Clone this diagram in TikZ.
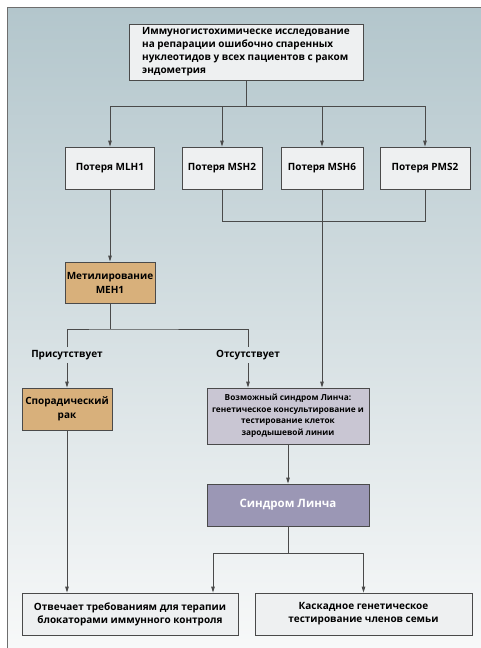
\documentclass[tikz,border=0pt]{standalone}
\usepackage{fontspec}
\setmainfont{Open Sans}
\usetikzlibrary{arrows.meta,calc}
\definecolor{bgtop}{HTML}{B3C6CC}
\definecolor{bgbot}{HTML}{F8F9F9}
\definecolor{boxfill}{HTML}{EEF0F1}
\definecolor{boxline}{HTML}{4A4A4A}
\definecolor{tan}{HTML}{D8B07B}
\definecolor{lavlight}{HTML}{C9C6D3}
\definecolor{lavdark}{HTML}{9B97B5}
\tikzset{
  box/.style={draw=boxline, fill=boxfill, line width=0.8pt, inner sep=0pt, align=center,
    font=\fontsize{10}{13}\selectfont\bfseries, text=black},
  tanbox/.style={box, fill=tan, font=\fontsize{10}{14}\selectfont\bfseries},
  lbl/.style={inner sep=3pt, font=\fontsize{10}{12}\selectfont\bfseries},
  conn/.style={draw=boxline, line width=0.8pt},
  arr/.style={conn, -{Triangle[length=6pt,width=3.5pt]}},
}
\begin{document}
\begin{tikzpicture}[x=1pt,y=-1pt]
\useasboundingbox (0,0) rectangle (480,648);
\shade[top color=bgtop, bottom color=bgbot] (7,7) rectangle (484,652);
\draw[boxline!80, line width=0.8pt] (7,652) -- (7,7) -- (484,7);

\node[box, minimum width=234pt, minimum height=56pt, align=left] (top) at (246,52)
 {Иммуногистохимическе исследование\\на репарации ошибочно спаренных\\нуклеотидов у всех пациентов с раком\\эндометрия};

\node[box, minimum width=89pt, minimum height=42pt] (mlh1) at (110,168) {Потеря MLH1};
\node[box, minimum width=80pt, minimum height=42pt] (msh2) at (222,168) {Потеря MSH2};
\node[box, minimum width=82pt, minimum height=42pt] (msh6) at (322,168) {Потеря MSH6};
\node[box, minimum width=90pt, minimum height=42pt] (pms2) at (425,168) {Потеря PMS2};

\node[tanbox, minimum width=90pt, minimum height=41pt] (meth) at (110,282.5) {Метилирование\\МЕН1};

\node[lbl] (pres) at (67,355) {Присутствует};
\node[lbl] (abs) at (248,355) {Отсутствует};

\node[tanbox, minimum width=90pt, minimum height=42pt] (spor) at (67,409) {Спорадический\\рак};
\node[box, fill=lavlight, minimum width=162pt, minimum height=56pt,
  font=\fontsize{8.3}{11.5}\selectfont\bfseries] (poss) at (288,416)
 {Возможный синдром Линча:\\генетическое консультирование и\\тестирование клеток\\зародышевой линии};
\node[box, fill=lavdark, minimum width=162pt, minimum height=42pt,
  font=\fontsize{11.5}{14}\selectfont\bfseries, text=white] (lynch) at (288,505) {Синдром Линча};

\node[box, minimum width=216pt, minimum height=42pt] (resp) at (130,614)
 {Отвечает требованиям для терапии\\блокаторами иммунного контроля};
\node[box, minimum width=217pt, minimum height=42pt] (casc) at (363.5,614)
 {Каскадное генетическое\\тестирование членов семьи};

% top split
\coordinate (s1) at (246,106);
\draw[conn] (top.south) -- (s1);
\draw[arr] (s1) -| (mlh1.north);
\draw[arr] (s1) -| (msh2.north);
\draw[arr] (s1) -| (msh6.north);
\draw[arr] (s1) -| (pms2.north);

% join of MSH2 / MSH6 / PMS2
\draw[conn] (msh2.south) -- ++(0,32) -| (pms2.south);
\draw[conn] (msh6.south) -- ++(0,32);
\draw[arr] (msh6.south) -- (msh6.south |- poss.north);

% MLH1 -> methylation
\draw[arr] (mlh1.south) -- (meth.north);
\coordinate (mj) at (110,329);
\draw[conn] (meth.south) -- (mj);
\draw[conn] (pres.north) |- (mj) -| (abs.north);
\draw[arr] (pres.south) -- (spor.north);
\draw[arr] (abs.south) -- (abs.south |- poss.north);

% Lynch
\draw[arr] (poss.south) -- (lynch.north);
\coordinate (lj) at (288,553);
\draw[conn] (lynch.south) -- (lj);
\draw[arr] (lj) -| ([xshift=83pt]resp.north);
\draw[arr] (lj) -| (casc.north);
\draw[arr] (spor.south) -- (spor.south |- resp.north);
\end{tikzpicture}
\end{document}
